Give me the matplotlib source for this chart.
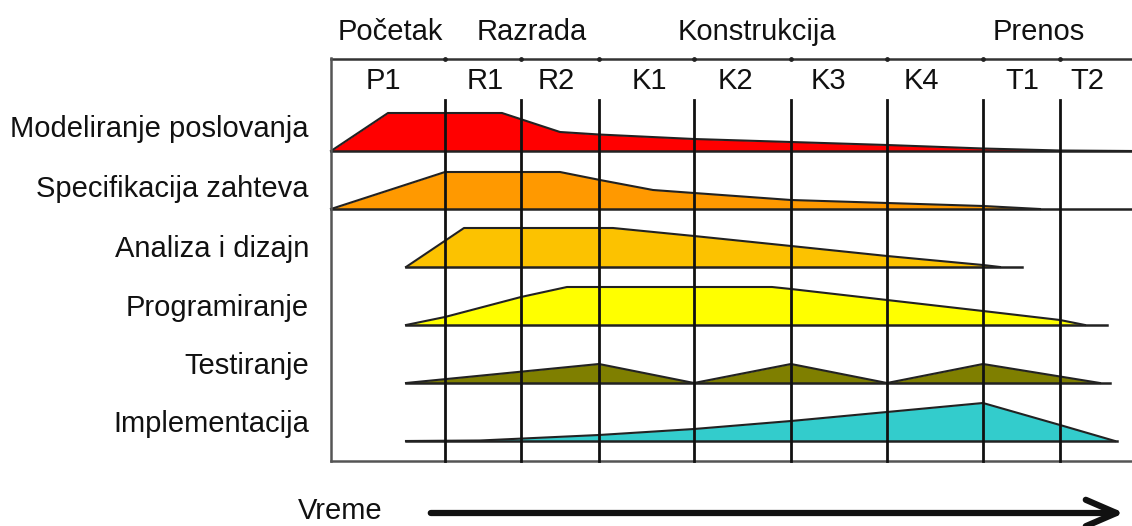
import matplotlib.pyplot as plt

plt.rcParams['font.family'] = ['Liberation Sans', 'DejaVu Sans']

# phases and iterations
phases = ["Početak", "Razrada", "Konstrukcija", "Prenos"]
phase_x = [390, 532, 757, 1039]
iterations = ["P1", "R1", "R2", "K1", "K2", "K3", "K4", "T1", "T2"]
iter_x = [383, 485, 556, 649, 735, 828, 921, 1022, 1087]
bounds = [445, 521, 599, 694, 791, 887, 983, 1060]

# disciplines
disciplines = ["Modeliranje poslovanja", "Specifikacija zahteva", "Analiza i dizajn",
               "Programiranje", "Testiranje", "Implementacija"]
colors = ["#ff0000", "#ff9900", "#fcc200", "#ffff00", "#7f7f00", "#33cccc"]

x_model = [331, 388, 502, 560, 599, 694, 791, 887, 983, 1060, 1132]
h_model = [0, 38, 38, 19, 16.5, 12, 9, 6, 2.5, 0.5, 0]

x_spec = [331, 445, 560, 600, 653, 694, 791, 887, 983, 1040]
h_spec = [0, 37, 37, 29, 19, 16, 9, 6, 3, 0]

x_anal = [406, 464, 613, 694, 791, 887, 983, 1000]
h_anal = [0, 39, 39, 31, 21, 11, 2, 0]

x_prog = [406, 445, 521, 567, 772, 791, 887, 983, 1060, 1085]
h_prog = [0, 8, 28, 38, 38, 36, 25, 14, 5, 0]

x_test = [406, 599, 694, 791, 887, 983, 1100]
h_test = [0, 19, 0, 19, 0, 19, 0]

x_impl = [406, 480, 599, 694, 791, 887, 983, 1060, 1115]
h_impl = [0, 0.5, 6, 12, 20, 29, 38, 16, 0]

xs = [x_model, x_spec, x_anal, x_prog, x_test, x_impl]
hs = [h_model, h_spec, h_anal, h_prog, h_test, h_impl]
line_end = [1132, 1132, 1022, 1107, 1110, 1117]
label_base = [137, 197, 257, 316, 374, 432]

fig = plt.figure(figsize=(11.32, 5.26), dpi=100)
ax = fig.add_axes([0, 0, 1, 1])
ax.set_xlim(0, 1132)
ax.set_ylim(526, 0)
ax.axis('off')

# frame
ax.plot([331, 1132], [59, 59], color="#333333", lw=1.8, zorder=3)
ax.plot([331, 1132], [461, 461], color="#555555", lw=1.8, zorder=3)
ax.plot([331, 331], [58, 461], color="#555555", lw=1.8, zorder=3)
ax.scatter(bounds, [59] * len(bounds), s=6, color="#222222", zorder=4)

# humps
for i in range(len(disciplines)):
    base = 151 + i * 58
    top = [base - h for h in hs[i]]
    ax.fill_between(xs[i], top, base, color=colors[i], lw=0, zorder=1)
    ax.plot(xs[i], top, color="#222222", lw=1.5, zorder=2)
    ax.plot([xs[i][0], line_end[i]], [base, base], color="#222222", lw=1.8, zorder=2)
    ax.text(309, label_base[i], disciplines[i], ha='right', va='baseline', fontsize=21, color="#111111")

# iteration lines
for b in bounds:
    ax.plot([b, b], [100, 461], color="#111111", lw=2, zorder=3)

for name, x in zip(phases, phase_x):
    ax.text(x, 40, name, ha='center', va='baseline', fontsize=21, color="#111111")
for name, x in zip(iterations, iter_x):
    ax.text(x, 89, name, ha='center', va='baseline', fontsize=21, color="#111111")

# time arrow
ax.text(340, 519, "Vreme", ha='center', va='baseline', fontsize=21, color="#111111")
ax.annotate("", xy=(1127, 513), xytext=(428, 513),
            arrowprops=dict(arrowstyle="->,head_length=2.2,head_width=0.95", lw=4.5, color="#111111"))

fig.savefig("out.png", dpi=100)
